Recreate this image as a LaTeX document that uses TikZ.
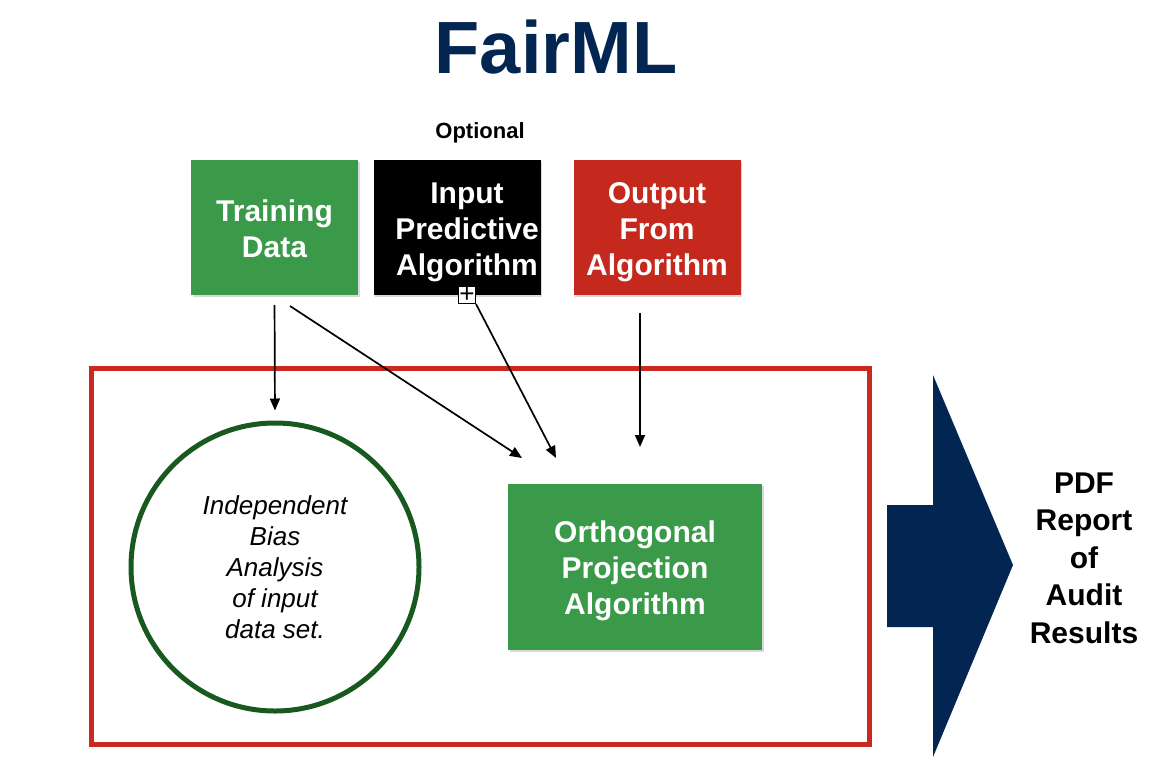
\documentclass[tikz,border=0pt]{standalone}
\usepackage{fontspec}
\setmainfont{Liberation Sans}
\usepackage{xcolor}
\usetikzlibrary{
    arrows.meta,
    shadows
}
\definecolor{fairnavy}{HTML}{032551}
\definecolor{boxgreen}{HTML}{3B9A4A}
\definecolor{boxred}{HTML}{C5281C}
\definecolor{framered}{HTML}{C9291E}
\definecolor{ringgreen}{HTML}{17591F}

\newcommand{\boxlines}[1]{\raisebox{-11pt}[0pt][0pt]{\begin{tabular}{@{}c@{}}#1\end{tabular}}}

\tikzset{
    box/.style={minimum width=167pt, minimum height=135pt, inner sep=0pt,
        text=white, font=\fontsize{30}{36}\selectfont\bfseries,
        drop shadow={opacity=0.3, shadow xshift=1.5pt, shadow yshift=-1.5pt}}
}

\begin{document}
\begin{tikzpicture}[x=1pt, y=-1pt, >={Triangle[length=12pt, width=10pt]}]
                        \useasboundingbox (0,0) rectangle (1166,782);
                        \node (title) at (556,47) {\fontsize{74}{80}\selectfont\bfseries\color{fairnavy}FairML};
                        \node (opt) at (480,133) {\fontsize{22}{26}\selectfont\bfseries Optional};
                        \node[box, fill=boxgreen] (train) at (274.5,227.5) {\boxlines{Training\\Data}};
                        \node[box, fill=black] (input) at (457,227.5) {\hspace*{20pt}\boxlines{Input\\Predictive\\Algorithm}};
                        \node[box, fill=boxred] (output) at (657,227.5) {\boxlines{Output\\From\\Algorithm}};
                        \node[draw, fill=white, line width=1pt, minimum size=17pt, inner sep=0pt,
                            font=\fontsize{26}{26}\selectfont] (plus) at (467,295) {+};
                        \node[draw=framered, line width=5pt, minimum width=778pt, minimum height=376pt] (frame) at (480,556) {};
                        \node[circle, draw=ringgreen, line width=5pt, minimum size=288pt, align=center,
                            font=\fontsize{26}{31}\selectfont\itshape] (bias) at (275,567) {Independent\\Bias\\Analysis\\of input\\data set.};
                        \node[box, fill=boxgreen, minimum width=254pt, minimum height=166pt] (ortho) at (635,567) {\boxlines{Orthogonal\\Projection\\Algorithm}};
                        \fill[fairnavy] (933,375) -- (1013,565) -- (933,757) -- (933,627) -- (887,627) -- (887,505) -- (933,505) -- cycle;
                        \node[align=center, font=\fontsize{30}{37.5}\selectfont\bfseries] (pdf) at (1084,558) {PDF\\Report\\of\\Audit\\Results};
                        \coordinate (trainfoot) at (290,306);
                        \coordinate (ortholeft) at (522,458);
                        \coordinate (orthomid) at (556,458);
                        \coordinate (outfoot) at (640,313);
                        \coordinate (orthoright) at (640,447);
                        \draw[line width=1.7pt]
                        (train.south) edge[->, shorten <=10pt, shorten >=10pt] (bias.north)
                        (trainfoot) edge[->] (ortholeft)
                        (plus.south east) edge[->] (orthomid)
                        (outfoot) edge[->] (orthoright);
                    \end{tikzpicture}
\end{document}
